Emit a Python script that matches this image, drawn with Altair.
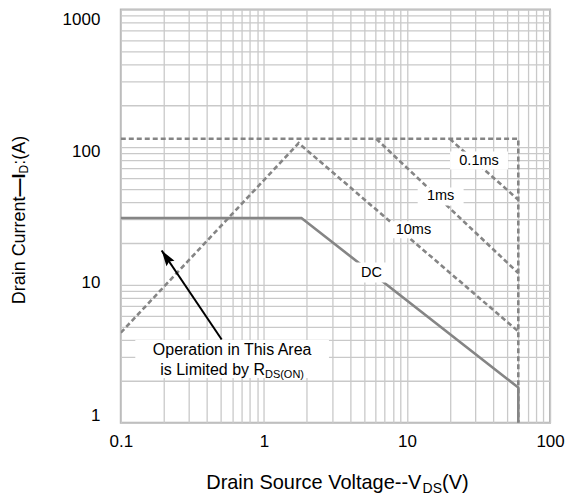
import math
import altair as alt
import pandas as pd

# ---------------- data ----------------
dc_vds = [0.1, 1.83, 60, 60]
dc_id = [30.6, 30.6, 1.8, 1.0]

limit_vds = [0.1, 60, 60]
limit_id = [115, 115, 1.0]

t10ms_vds = [0.1, 1.75, 60]
t10ms_id = [4.5, 107, 4.6]

t1ms_vds = [6.1, 60]
t1ms_id = [115, 12.2]

t01ms_vds = [19.9, 60]
t01ms_id = [115, 41.5]

curve_labels = ["0.1ms", "1ms", "10ms", "DC"]
curve_label_vds = [31.9, 17.2, 11.1, 5.65]
curve_label_id = [80, 43.9, 25.2, 12.3]

note_line1 = "Operation in This Area"
note_line2 = "is Limited by R"
note_sub = "DS(ON)"
note_vds = [0.60]
note_id = [2.9]

arrow_vds = [0.507, 0.193]   # tail, tip
arrow_id = [4.02, 17.8]

x_decades = [0.1, 1, 10, 100]
y_decades = [1, 10, 100, 1000]

# ---------------- layout / style ----------------
W, H = 430, 414
FONT = "Liberation Sans"
GRAY = "#858585"
GRID = "#c9c9c9"

AW = {' ': 278, '(': 333, ')': 333, '-': 333, '.': 278, ':': 278, '\u2014': 1000,
      'A': 667, 'C': 722, 'D': 722, 'I': 278, 'L': 556, 'N': 722, 'O': 778, 'R': 722,
      'S': 667, 'T': 611, 'V': 667, 'a': 556, 'b': 556, 'c': 500, 'd': 556, 'e': 556,
      'g': 556, 'h': 556, 'i': 222, 'l': 222, 'm': 833, 'n': 556, 'o': 556, 'p': 556,
      'r': 333, 's': 500, 't': 278, 'u': 556, 'y': 500}


def tw(s, size):
    return sum(AW.get(c, 556) for c in s) * size / 1000.0


def grid_values(decades):
    vals = []
    for d in decades[:-1]:
        for m in range(1, 10):
            vals.append(round(m * d, 6))
    vals.append(decades[-1])
    return vals


label_expr = ("abs(log(datum.value)/LN10 - round(log(datum.value)/LN10)) < 1e-6"
              " ? datum.label : ''")

xscale = alt.Scale(type="log", domain=[x_decades[0], x_decades[-1]], nice=False)
yscale = alt.Scale(type="log", domain=[y_decades[0], y_decades[-1]], nice=False)

xaxis = alt.Axis(values=grid_values(x_decades), labelExpr=label_expr, format="~g",
                 title=None, ticks=False, domain=False, grid=True,
                 gridColor=GRID, gridWidth=1.3, labelFont=FONT, labelFontSize=17,
                 labelColor="black", labelPadding=11, labelFlush=False,
                 labelOverlap=False)
yaxis = alt.Axis(values=grid_values(y_decades), labelExpr=label_expr, format="~g",
                 title=None, ticks=False, domain=False, grid=True,
                 gridColor=GRID, gridWidth=1.3, labelFont=FONT, labelFontSize=17,
                 labelColor="black", labelPadding=21, labelFlush=False,
                 labelOverlap=False,
                 labelOffset={"condition": [
                     {"test": "datum.value == 1000", "value": 10},
                     {"test": "datum.value == 100", "value": 4},
                     {"test": "datum.value == 1", "value": -7}],
                     "value": -2})

X = alt.X("vds:Q", scale=xscale, axis=xaxis)
Y = alt.Y("id:Q", scale=yscale, axis=yaxis)


def frame(vds, ids):
    return pd.DataFrame({"vds": vds, "id": ids, "i": list(range(len(vds)))})


def curve(vds, ids, dashed):
    kw = dict(color=GRAY, strokeWidth=2.6, clip=True)
    if dashed:
        kw["strokeDash"] = [5, 3]
    return alt.Chart(frame(vds, ids)).mark_line(**kw).encode(x=X, y=Y, order="i:Q")


layers = [
    curve(limit_vds, limit_id, True),
    curve(t10ms_vds, t10ms_id, True),
    curve(t1ms_vds, t1ms_id, True),
    curve(t01ms_vds, t01ms_id, True),
    curve(dc_vds, dc_id, False),
]

# white boxes behind curve labels
box_w = [58, 46, 46, 36]
box_h = [18, 18, 17, 20]
for k in range(len(curve_labels)):
    df = frame([curve_label_vds[k]], [curve_label_id[k]])
    layers.append(alt.Chart(df).mark_rect(
        color="white", xOffset=-box_w[k] / 2, x2Offset=box_w[k] / 2,
        yOffset=-box_h[k] / 2, y2Offset=box_h[k] / 2).encode(
        x=X, x2=alt.X2("vds:Q"), y=Y, y2=alt.Y2("id:Q")))

lab_df = pd.DataFrame({"vds": curve_label_vds, "id": curve_label_id, "t": curve_labels})
layers.append(alt.Chart(lab_df).mark_text(
    font=FONT, fontSize=14.5, color="black", align="center", baseline="middle").encode(
    x=X, y=Y, text="t:N"))

# note box + text
note_df = frame(note_vds, note_id)
layers.append(alt.Chart(note_df).mark_rect(
    color="white", xOffset=-97, x2Offset=97, yOffset=-19, y2Offset=19).encode(
    x=X, x2=alt.X2("vds:Q"), y=Y, y2=alt.Y2("id:Q")))
layers.append(alt.Chart(note_df).mark_text(
    text=note_line1, font=FONT, fontSize=16, color="black", align="center",
    baseline="alphabetic", dy=-4).encode(x=X, y=Y))
w_main = tw(note_line2, 16)
w_sub = tw(note_sub, 11)
start = -(w_main + w_sub) / 2
layers.append(alt.Chart(note_df).mark_text(
    text=note_line2, font=FONT, fontSize=16, color="black", align="left",
    baseline="alphabetic", dx=start, dy=16).encode(x=X, y=Y))
layers.append(alt.Chart(note_df).mark_text(
    text=note_sub, font=FONT, fontSize=11, color="black", align="left",
    baseline="alphabetic", dx=start + w_main, dy=19).encode(x=X, y=Y))

# arrow
arr_df = frame(arrow_vds, arrow_id)
layers.append(alt.Chart(arr_df).mark_line(color="black", strokeWidth=2).encode(
    x=X, y=Y, order="i:Q"))
dxp = (math.log10(arrow_vds[1]) - math.log10(arrow_vds[0])) * W / 3
dyp = -(math.log10(arrow_id[1]) - math.log10(arrow_id[0])) * H / 3
theta = math.degrees(math.atan2(dxp, -dyp)) % 360
tip_df = frame([arrow_vds[1]], [arrow_id[1]])
layers.append(alt.Chart(tip_df).mark_point(
    shape="M0,0L-0.7,2.3L0,1.95L0.7,2.3Z", filled=True, size=190, angle=theta,
    color="black", opacity=1, strokeWidth=0).encode(x=X, y=Y))

# axis titles with subscripts
one = pd.DataFrame({"k": [0]})


def title_pieces(pieces, x, y, angle):
    total = sum(tw(t, s) for t, s, _, _ in pieces)
    pos = -total / 2
    out = []
    for t, s, dy, weight in pieces:
        kw = dict(text=t, font=FONT, fontSize=s, color="black", align="left",
                  baseline="alphabetic", dx=pos, dy=dy, fontWeight=weight)
        if angle:
            kw["angle"] = angle
        out.append(alt.Chart(one).mark_text(**kw).encode(
            x=alt.value(x), y=alt.value(y)))
        pos += tw(t, s)
    return out


layers += title_pieces([("Drain Source Voltage--V", 20, 0, "normal"),
                        ("DS", 14, 4, "normal"),
                        ("(V)", 20, 0, "normal")], W / 2 + 2, 480, 0)
layers += title_pieces([("Drain Current", 18, 0, "normal"),
                        ("\u2014I", 18, 0, "bold"),
                        ("D", 12, 3, "normal"),
                        (":(A)", 18, 0, "normal")], -96, H / 2 + 4, 270)

chart = alt.layer(*layers).properties(
    width=W, height=H,
    autosize=alt.AutoSizeParams(type="none"),
    padding={"left": 113, "top": 1, "right": 15, "bottom": 73},
    background="white",
).configure_view(stroke="#b5b5b5", strokeWidth=2)

chart.save("out.html", embed_options={"renderer": "svg", "actions": False})
